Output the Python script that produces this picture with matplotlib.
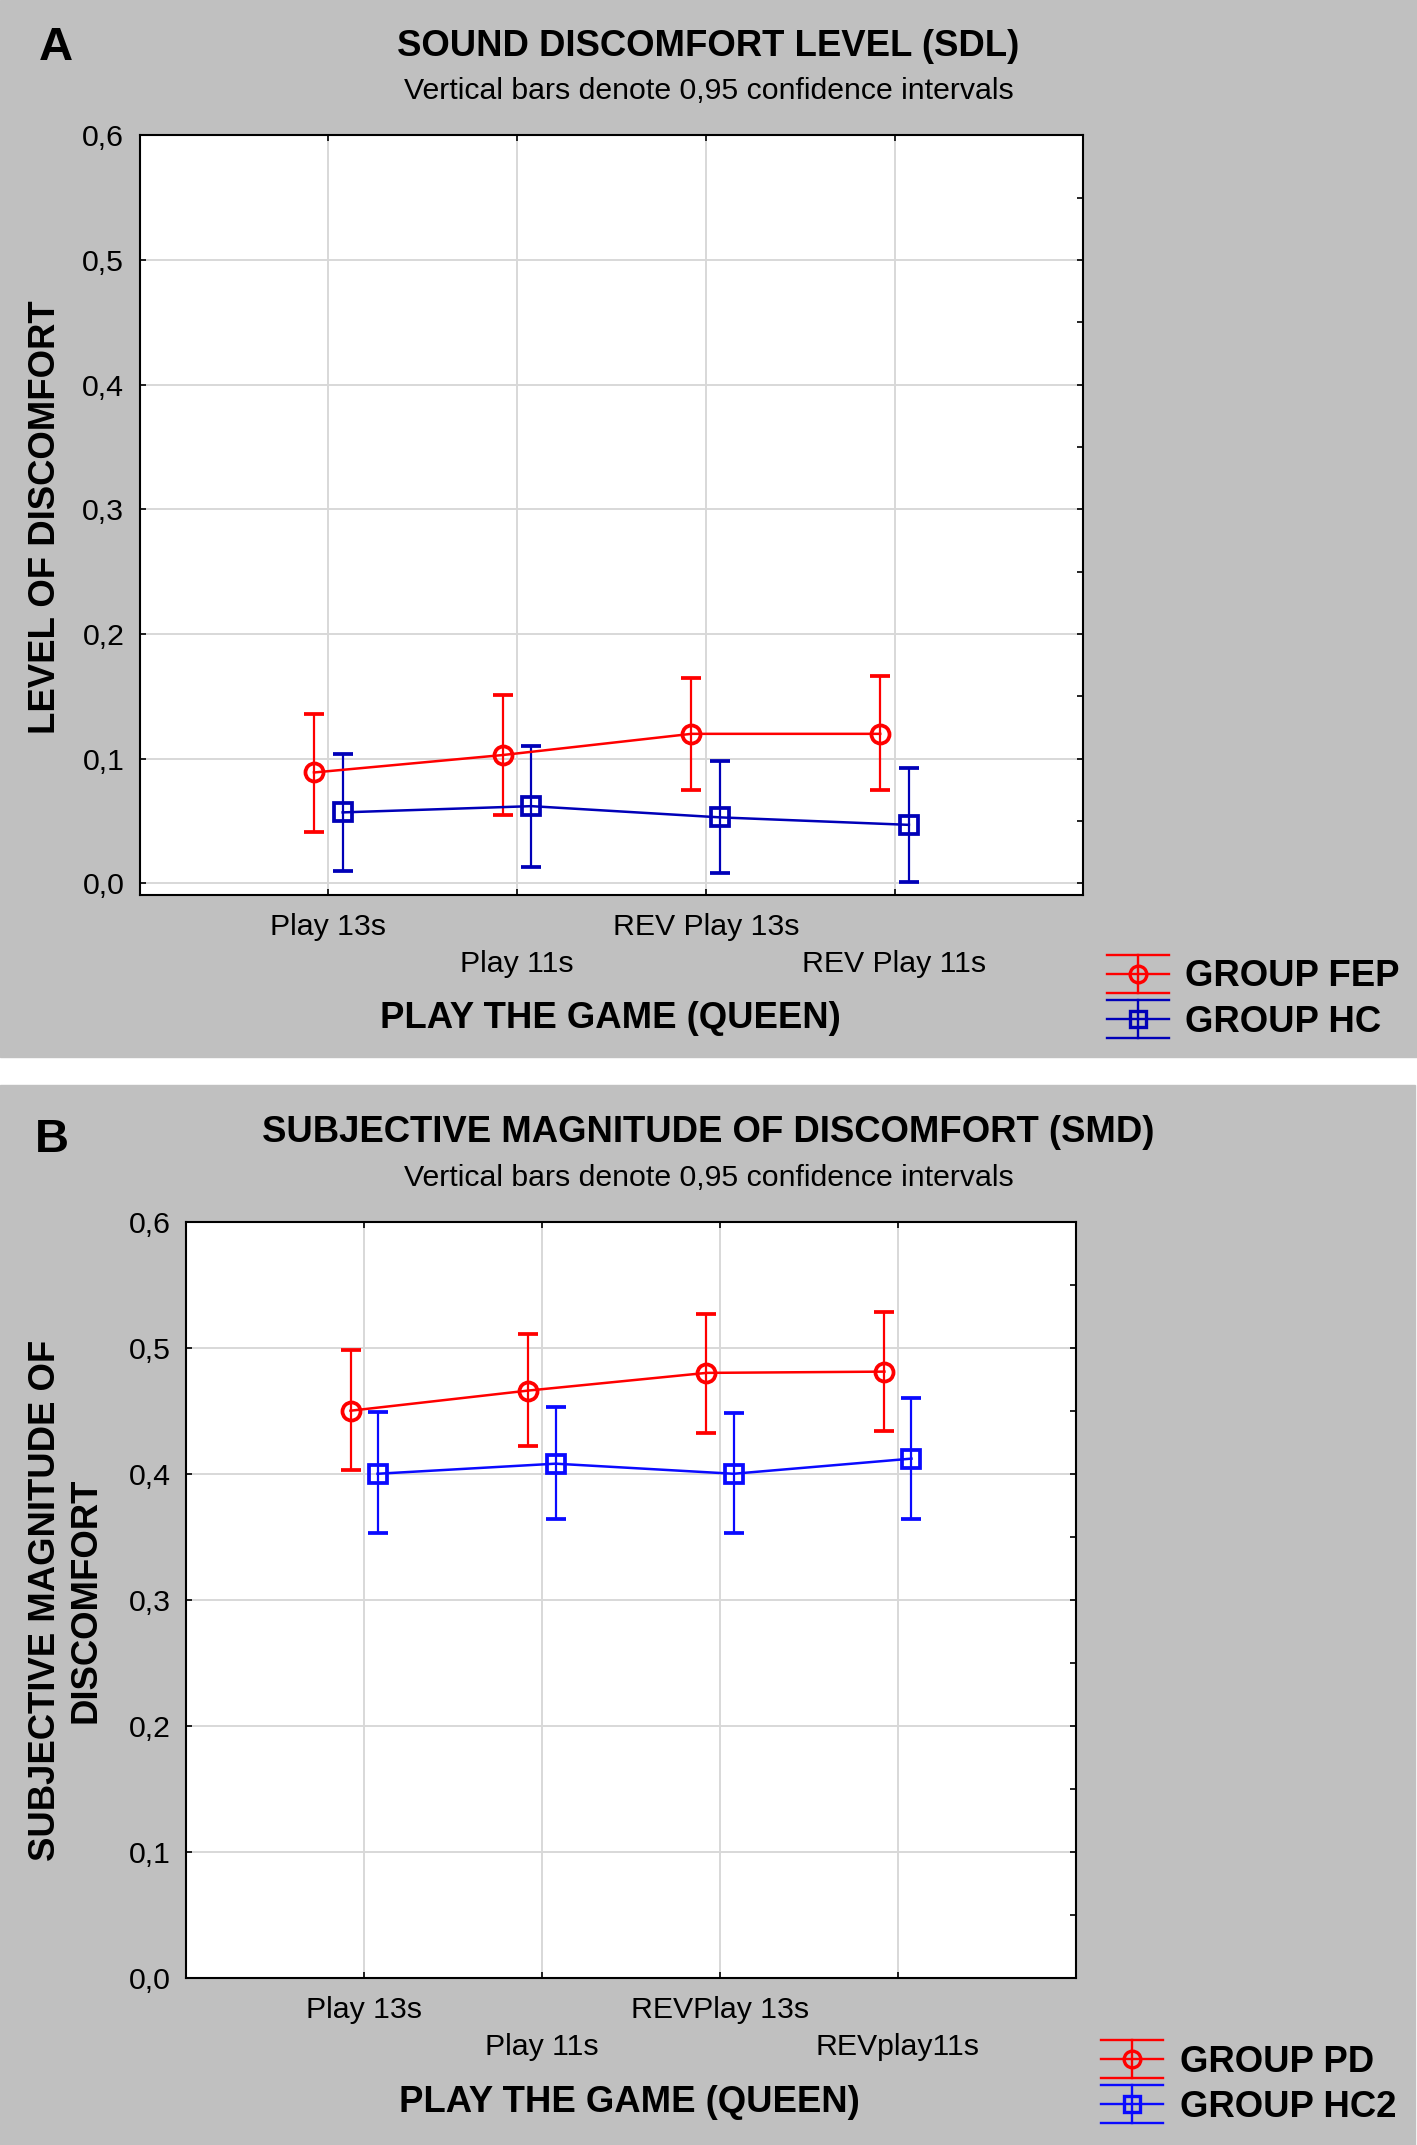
import numpy as np
from matplotlib import pyplot as plt
from matplotlib.patches import Rectangle
from matplotlib.lines import Line2D
from matplotlib.legend_handler import HandlerBase
from matplotlib.ticker import MultipleLocator

plt.rcParams['font.family'] = ['Liberation Sans', 'DejaVu Sans']

#data, panel A (SDL)
cats_a = ['Play 13s', 'Play 11s', 'REV Play 13s', 'REV Play 11s']
fep_mean = [0.089, 0.103, 0.120, 0.120]
fep_lo = [0.041, 0.055, 0.075, 0.075]
fep_hi = [0.136, 0.151, 0.165, 0.166]
hc_mean = [0.057, 0.062, 0.053, 0.047]
hc_lo = [0.010, 0.013, 0.008, 0.001]
hc_hi = [0.104, 0.110, 0.098, 0.093]

#data, panel B (SMD)
cats_b = ['Play 13s', 'Play 11s', 'REVPlay 13s', 'REVplay11s']
pd_mean = [0.450, 0.466, 0.480, 0.481]
pd_lo = [0.403, 0.422, 0.432, 0.434]
pd_hi = [0.498, 0.511, 0.527, 0.528]
hc2_mean = [0.400, 0.408, 0.400, 0.412]
hc2_lo = [0.353, 0.364, 0.353, 0.364]
hc2_hi = [0.449, 0.453, 0.448, 0.460]

yticks = [0.0, 0.1, 0.2, 0.3, 0.4, 0.5, 0.6]
ytick_labels = ['0,0', '0,1', '0,2', '0,3', '0,4', '0,5', '0,6']

RED = '#ff0000'
BLUE_A = '#0000b8'
BLUE_B = '#0a0aff'
GRAY = '#c0c0c0'
BOLD = 26.3
REG = 21.8


class HandlerCI(HandlerBase):
    #errorbar legend symbol with caps as wide as the handle
    def create_artists(self, legend, orig_handle, xdescent, ydescent,
                       width, height, fontsize, trans):
        c = orig_handle.get_color()
        lw = orig_handle.get_linewidth()
        yc = height / 2 - ydescent
        x0, x1 = -xdescent, width - xdescent
        xm = (x0 + x1) / 2
        d = 0.52 * fontsize
        arts = []
        for yy in (yc - d, yc, yc + d):
            arts.append(Line2D([x0, x1], [yy, yy], color=c, lw=lw))
        arts.append(Line2D([xm, xm], [yc - d, yc + d], color=c, lw=lw))
        arts.append(Line2D([xm], [yc], marker=orig_handle.get_marker(), ms=orig_handle.get_markersize(),
                           mfc='none', mec=c, mew=orig_handle.get_markeredgewidth(), ls='none'))
        for a in arts:
            a.set_transform(trans)
        return arts


def panel(ax, cats, m1, lo1, hi1, m2, lo2, hi2, c2, ylo):
    x = np.arange(1, len(cats) + 1)
    off = 0.076
    m1, lo1, hi1 = map(np.array, (m1, lo1, hi1))
    m2, lo2, hi2 = map(np.array, (m2, lo2, hi2))
    ax.errorbar(x - off, m1, yerr=[m1 - lo1, hi1 - m1], fmt='-o', color=RED, lw=1.8,
                ms=13, mfc='none', mew=2.7, capsize=7.5, elinewidth=1.6, capthick=1.6, zorder=3)
    ax.errorbar(x + off, m2, yerr=[m2 - lo2, hi2 - m2], fmt='-s', color=c2, lw=1.8,
                ms=13, mfc='none', mew=2.7, capsize=7.5, elinewidth=1.6, capthick=1.6, zorder=3)
    ax.set_xlim(0, len(cats) + 1)
    ax.set_ylim(ylo, 0.6)
    ax.set_xticks(x)
    ax.set_xticklabels([c if i % 2 == 0 else '\n' + c for i, c in enumerate(cats)])
    for lab in ax.get_xticklabels():
        lab.set_linespacing(1.4)
    ax.set_yticks(yticks)
    ax.set_yticklabels(ytick_labels)
    ax.yaxis.set_minor_locator(MultipleLocator(0.05))
    ax.grid(True, which='major', color='#d8d8d8', lw=1.4, zorder=0)
    ax.set_axisbelow(True)
    for s in ax.spines.values():
        s.set_linewidth(1.5)
        s.set_color('black')
    ax.tick_params(axis='both', which='major', direction='in', length=4.5, width=1.2,
                   labelsize=REG, top=True, right=True)
    ax.tick_params(axis='x', pad=13)
    ax.tick_params(axis='y', pad=11)
    ax.tick_params(axis='y', which='minor', direction='in', length=4.5, width=1.2,
                   left=False, right=True)
    ax.tick_params(axis='x', which='minor', bottom=False, top=False)


def legend_ci(labels, c2, anchor):
    hs = [Line2D([], [], color=RED, marker='o', ms=12, mew=2.4, lw=1.7),
          Line2D([], [], color=c2, marker='s', ms=12, mew=2.4, lw=1.7)]
    fig.legend(hs, labels, loc='center left', bbox_to_anchor=anchor,
               frameon=False, handler_map={Line2D: HandlerCI()}, handlelength=1.7, handleheight=0.7,
               handletextpad=0.45, labelspacing=0.28, borderpad=0, borderaxespad=0,
               prop={'size': BOLD, 'weight': 'bold'})


fig = plt.figure(figsize=(14.17, 21.45), dpi=100, facecolor='white')
fig.patches.append(Rectangle((0, 1 - 1057 / 2145), 1, 1057 / 2145, transform=fig.transFigure,
                             color=GRAY, zorder=-10))
fig.patches.append(Rectangle((0, 0), 0.9986, 1 - 1085 / 2145, transform=fig.transFigure,
                             color=GRAY, zorder=-10))

#panel A
axA = fig.add_axes([0.0985, 0.5829, 0.666, 0.354])
panel(axA, cats_a, fep_mean, fep_lo, fep_hi, hc_mean, hc_lo, hc_hi, BLUE_A, -0.009)
fig.text(0.0395, 0.9777, 'A', fontsize=34, fontweight='bold', ha='center', va='center')
fig.text(0.5, 0.9785, 'SOUND DISCOMFORT LEVEL (SDL)', fontsize=BOLD, fontweight='bold', ha='center', va='center')
fig.text(0.5, 0.9575, 'Vertical bars denote 0,95 confidence intervals', fontsize=REG, ha='center', va='center')
fig.text(0.0318, 0.759, 'LEVEL OF DISCOMFORT', fontsize=BOLD, fontweight='bold', rotation=90,
         ha='center', va='center')
fig.text(0.4305, 0.5254, 'PLAY THE GAME (QUEEN)', fontsize=BOLD, fontweight='bold', ha='center', va='center')
legend_ci(['GROUP FEP', 'GROUP HC'], BLUE_A, (0.781, 0.534))

#panel B
axB = fig.add_axes([0.1313, 0.0778, 0.628, 0.3527])
panel(axB, cats_b, pd_mean, pd_lo, pd_hi, hc2_mean, hc2_lo, hc2_hi, BLUE_B, 0.0)
fig.text(0.0367, 0.4683, 'B', fontsize=34, fontweight='bold', ha='center', va='center')
fig.text(0.5, 0.4722, 'SUBJECTIVE MAGNITUDE OF DISCOMFORT (SMD)', fontsize=BOLD, fontweight='bold',
         ha='center', va='center')
fig.text(0.5, 0.4507, 'Vertical bars denote 0,95 confidence intervals', fontsize=REG, ha='center', va='center')
fig.text(0.0465, 0.254, 'SUBJECTIVE MAGNITUDE OF\nDISCOMFORT', fontsize=BOLD, fontweight='bold', rotation=90,
         ha='center', va='center', multialignment='center')
fig.text(0.444, 0.0197, 'PLAY THE GAME (QUEEN)', fontsize=BOLD, fontweight='bold', ha='center', va='center')
legend_ci(['GROUP PD', 'GROUP HC2'], BLUE_B, (0.777, 0.028))

plt.savefig('out.png', dpi=100, facecolor=fig.get_facecolor())
